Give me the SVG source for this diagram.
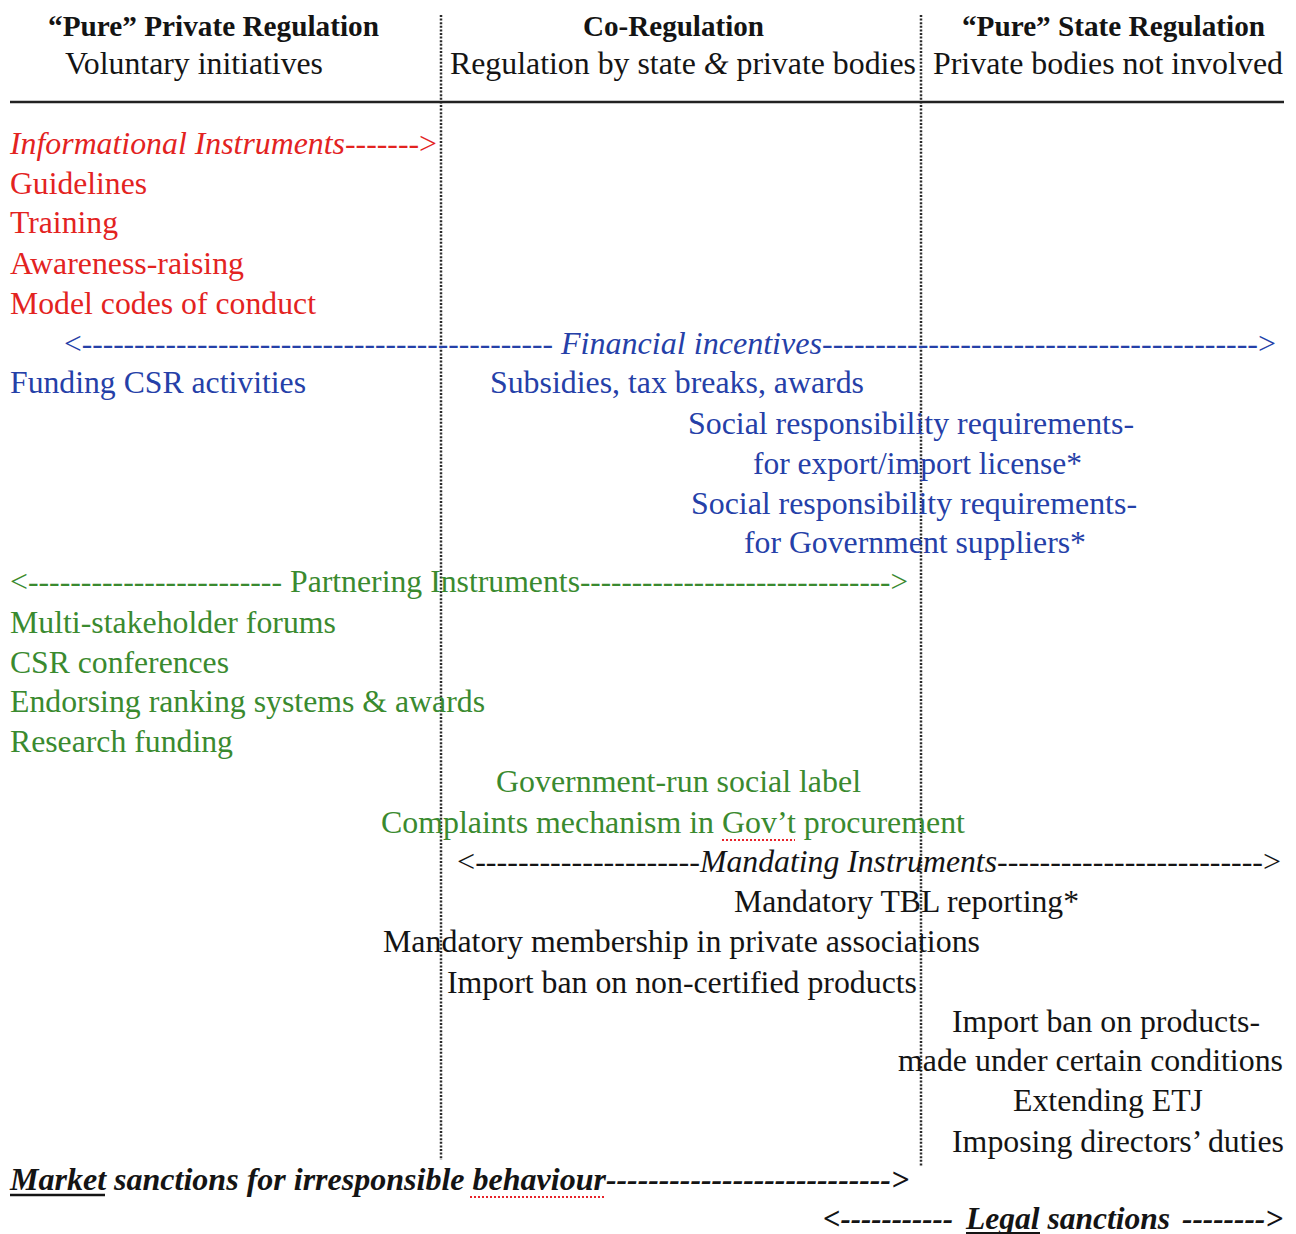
<svg xmlns="http://www.w3.org/2000/svg" width="1296" height="1234" viewBox="0 0 1296 1234">
<style>
text{font-family:"Liberation Serif","Times New Roman",serif;font-size:31.5px;fill:#141414}
.h{font-weight:bold;font-size:29px}
.i{font-style:italic}
.bi{font-style:italic;font-weight:bold}
.r{fill:#e3231f}
.b{fill:#2540a8}
.g{fill:#3a8a2f}
.div{stroke:#2a2a2a;stroke-width:2.5;stroke-dasharray:2 1.6;fill:none}
.sp{stroke:#e8232a;stroke-width:2;stroke-dasharray:2 2;fill:none}
</style>
<rect width="1296" height="1234" fill="#fff"/>
<g id="connectors">
<line class="div" x1="441" y1="15" x2="441" y2="1160"/>
<line class="div" x1="921" y1="15" x2="921" y2="1166"/>
<line x1="10" y1="102" x2="1284" y2="102" stroke="#222" stroke-width="2.5"/>
</g>
<g id="header">
<g id="col-private">
<text class="h" x="48" y="36" textLength="331" lengthAdjust="spacingAndGlyphs">“Pure” Private Regulation</text>
<text x="65" y="74" textLength="258" lengthAdjust="spacingAndGlyphs">Voluntary initiatives</text>
</g>
<g id="col-co">
<text class="h" x="583" y="36" textLength="181" lengthAdjust="spacingAndGlyphs">Co-Regulation</text>
<text x="450" y="74" textLength="466" lengthAdjust="spacingAndGlyphs">Regulation by state <tspan class="i">&amp;</tspan> private bodies</text>
</g>
<g id="col-state">
<text class="h" x="962" y="36" textLength="303" lengthAdjust="spacingAndGlyphs">“Pure” State Regulation</text>
<text x="933" y="74" textLength="350" lengthAdjust="spacingAndGlyphs">Private bodies not involved</text>
</g>
</g>
<g id="informational">
<text class="r i" x="10" y="154" textLength="335" lengthAdjust="spacingAndGlyphs">Informational Instruments</text>
<text class="r" x="345" y="154" textLength="92" lengthAdjust="spacingAndGlyphs">-------&gt;</text>
<text class="r" x="10" y="194" textLength="137" lengthAdjust="spacingAndGlyphs">Guidelines</text>
<text class="r" x="10" y="233" textLength="108" lengthAdjust="spacingAndGlyphs">Training</text>
<text class="r" x="10" y="274" textLength="234" lengthAdjust="spacingAndGlyphs">Awareness-raising</text>
<text class="r" x="10" y="314" textLength="306" lengthAdjust="spacingAndGlyphs">Model codes of conduct</text>
</g>
<g id="financial">
<text class="b" x="64" y="354" textLength="489" lengthAdjust="spacingAndGlyphs">&lt;---------------------------------------------</text>
<text class="b i" x="561" y="354" textLength="261" lengthAdjust="spacingAndGlyphs">Financial incentives</text>
<text class="b" x="822" y="354" textLength="454" lengthAdjust="spacingAndGlyphs">-----------------------------------------&gt;</text>
<text class="b" x="10" y="393" textLength="296" lengthAdjust="spacingAndGlyphs">Funding CSR activities</text>
<text class="b" x="490" y="393" textLength="374" lengthAdjust="spacingAndGlyphs">Subsidies, tax breaks, awards</text>
<text class="b" x="688" y="434" textLength="446" lengthAdjust="spacingAndGlyphs">Social responsibility requirements-</text>
<text class="b" x="753" y="474" textLength="329" lengthAdjust="spacingAndGlyphs">for export/import license*</text>
<text class="b" x="691" y="514" textLength="446" lengthAdjust="spacingAndGlyphs">Social responsibility requirements-</text>
<text class="b" x="744" y="553" textLength="342" lengthAdjust="spacingAndGlyphs">for Government suppliers*</text>
</g>
<g id="partnering">
<text class="g" x="10" y="592" textLength="272" lengthAdjust="spacingAndGlyphs">&lt;------------------------</text>
<text class="g" x="290" y="592" textLength="290" lengthAdjust="spacingAndGlyphs">Partnering Instruments</text>
<text class="g" x="580" y="592" textLength="328" lengthAdjust="spacingAndGlyphs">------------------------------&gt;</text>
<text class="g" x="10" y="633" textLength="326" lengthAdjust="spacingAndGlyphs">Multi-stakeholder forums</text>
<text class="g" x="10" y="673" textLength="219" lengthAdjust="spacingAndGlyphs">CSR conferences</text>
<text class="g" x="10" y="712" textLength="475" lengthAdjust="spacingAndGlyphs">Endorsing ranking systems &amp; awards</text>
<text class="g" x="10" y="752" textLength="223" lengthAdjust="spacingAndGlyphs">Research funding</text>
<text class="g" x="496" y="792" textLength="365" lengthAdjust="spacingAndGlyphs">Government-run social label</text>
<text class="g" x="381" y="833" textLength="584" lengthAdjust="spacingAndGlyphs">Complaints mechanism in Gov’t procurement</text>
<line class="sp" x1="722" y1="840" x2="795" y2="840"/>
</g>
<g id="mandating">
<text x="457" y="872" textLength="243" lengthAdjust="spacingAndGlyphs">&lt;---------------------</text>
<text class="i" x="700" y="872" textLength="297" lengthAdjust="spacingAndGlyphs">Mandating Instruments</text>
<text x="997" y="872" textLength="284" lengthAdjust="spacingAndGlyphs">-------------------------&gt;</text>
<text x="734" y="912" textLength="345" lengthAdjust="spacingAndGlyphs">Mandatory TBL reporting*</text>
<text x="383" y="952" textLength="597" lengthAdjust="spacingAndGlyphs">Mandatory membership in private associations</text>
<text x="447" y="993" textLength="470" lengthAdjust="spacingAndGlyphs">Import ban on non-certified products</text>
<text x="952" y="1032" textLength="308" lengthAdjust="spacingAndGlyphs">Import ban on products-</text>
<text x="898" y="1071" textLength="385" lengthAdjust="spacingAndGlyphs">made under certain conditions</text>
<text x="1013" y="1111" textLength="190" lengthAdjust="spacingAndGlyphs">Extending ETJ</text>
<text x="952" y="1152" textLength="332" lengthAdjust="spacingAndGlyphs">Imposing directors’ duties</text>
</g>
<g id="market-sanctions">
<text class="bi" x="10" y="1190" textLength="596" lengthAdjust="spacingAndGlyphs">Market sanctions for irresponsible behaviour</text>
<text class="bi" x="606" y="1190" textLength="303" lengthAdjust="spacingAndGlyphs">---------------------------&gt;</text>
<line x1="10" y1="1195" x2="105" y2="1195" stroke="#141414" stroke-width="2.5"/>
<line class="sp" x1="470" y1="1197" x2="604" y2="1197"/>
</g>
<g id="legal-sanctions">
<text class="bi" x="823" y="1229" textLength="130" lengthAdjust="spacingAndGlyphs">&lt;-----------</text>
<text class="bi" x="966" y="1229" textLength="204" lengthAdjust="spacingAndGlyphs">Legal sanctions</text>
<text class="bi" x="1182" y="1229" textLength="101" lengthAdjust="spacingAndGlyphs">--------&gt;</text>
<line x1="966" y1="1233" x2="1040" y2="1233" stroke="#141414" stroke-width="2"/>
</g>
</svg>
